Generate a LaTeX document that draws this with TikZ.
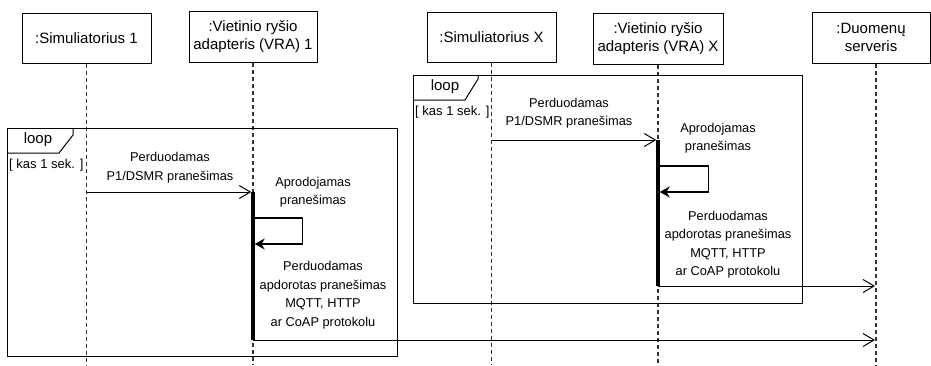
\documentclass[tikz,border=0pt]{standalone}
\usepackage{fontspec}
\setmainfont{Liberation Sans}
\usetikzlibrary{arrows.meta, positioning}

\begin{document}
\begin{tikzpicture}[x=1pt, y=-1pt, >=Latex]
    % Define the styles
    \tikzset{
        actor/.style = {draw, rectangle, line width=1pt, minimum width=128pt, minimum height=51pt, align=center, inner sep=1pt, font=\fontsize{15}{18}\selectfont},
        lifeline/.style = {draw=black!80, line width=1.2pt, dash pattern=on 4pt off 3pt},
        frame/.style = {draw, line width=1pt},
        activation/.style = {draw, line width=3.5pt},
        msg/.style = {draw, line width=1pt, -{Straight Barb[length=11pt, width=13pt]}},
        selfmsg/.style = {draw, line width=1.3pt, -{Stealth[length=10pt, width=11pt]}},
        msgtext/.style = {align=center, inner sep=1pt, font=\fontsize{12.8}{18.5}\selectfont},
        looptext/.style = {inner sep=1pt, font=\fontsize{15}{18}\selectfont},
        guard/.style = {anchor=west, inner sep=1pt, font=\fontsize{13}{15}\selectfont},
    }
    \useasboundingbox (0,0) rectangle (931,365);

    % Nodes placement
    \node [actor, minimum width=129pt, minimum height=50pt] (sim1) at (86.5,38) {:Simuliatorius 1};
    \node [actor] (vra1) at (253,36.5) {:Vietinio ryšio\\adapteris (VRA) 1};
    \node [actor, minimum width=129pt, minimum height=50pt] (simX) at (491.5,37) {:Simuliatorius X};
    \node [actor, minimum width=130pt] (vraX) at (658,38.5) {:Vietinio ryšio\\adapteris (VRA) X};
    \node [actor, minimum width=118pt] (srv) at (871,37.5) {:Duomenų\\serveris};

    % Lifeline ends and activation points
    \coordinate (bottom) at (0,365);
    \coordinate (srvend) at (876,365);
    \coordinate (a1top) at (253,192);
    \coordinate (a1bot) at (253,340);
    \coordinate (aXtop) at (658,140);
    \coordinate (aXbot) at (658,286);

    % Lifelines
    \draw [lifeline] (sim1.south) -- (sim1.south |- bottom);
    \draw [lifeline] (vra1.south) -- (vra1.south |- bottom);
    \draw [lifeline] (simX.south) -- (simX.south |- bottom);
    \draw [lifeline] (vraX.south) -- (vraX.south |- bottom);
    \draw [lifeline] (srvend |- srv.south) -- (srvend);

    % Loop frames
    \draw [frame] (7,128) rectangle (397,356);
    \draw [frame] (7,153) -- (59,153) -- (73,135) -- (73,128);
    \node [looptext] (loop1) at (38,140) {loop};
    \node [guard] (guard1) at (8,165) {[ kas 1 sek. ]};

    \draw [frame] (413,75) rectangle (802,303);
    \draw [frame] (413,100) -- (465,100) -- (478,79) -- (478,75);
    \node [looptext] (loopX) at (445,87) {loop};
    \node [guard] (guardX) at (414,112) {[ kas 1 sek. ]};

    % Activation bars
    \draw [activation] (a1top) -- (a1bot);
    \draw [activation] (aXtop) -- (aXbot);

    % Messages, first pair
    \draw [msg, shorten >=1.75pt] (sim1.south |- a1top) -- (a1top);
    \draw [selfmsg] ([xshift=1.75pt]vra1.south |- 0,218) -- ++(48,0) |- ([xshift=1.75pt]vra1.south |- 0,244);
    \draw [msg, shorten >=1pt] (a1bot) -- (srvend |- a1bot);

    \node [msgtext] (send1) at (170,167.5) {Perduodamas\\P1/DSMR pranešimas};
    \node [msgtext] (parse1) at (313,192) {Aprodojamas\\pranešimas};
    \node [msgtext] (fwd1) at (323,295) {Perduodamas\\apdorotas pranešimas\\MQTT, HTTP\\ar CoAP protokolu};

    % Messages, second pair
    \draw [msg, shorten >=1.75pt] (simX.south |- aXtop) -- (aXtop);
    \draw [selfmsg] ([xshift=1.75pt]vraX.south |- 0,166) -- ++(49,0) |- ([xshift=1.75pt]vraX.south |- 0,192);
    \draw [msg, shorten >=1pt] (aXbot) -- (srvend |- aXbot);

    \node [msgtext] (sendX) at (569,113) {Perduodamas\\P1/DSMR pranešimas};
    \node [msgtext] (parseX) at (718,138) {Aprodojamas\\pranešimas};
    \node [msgtext] (fwdX) at (728,244.5) {Perduodamas\\apdorotas pranešimas\\MQTT, HTTP\\ar CoAP protokolu};

\end{tikzpicture}
\end{document}
